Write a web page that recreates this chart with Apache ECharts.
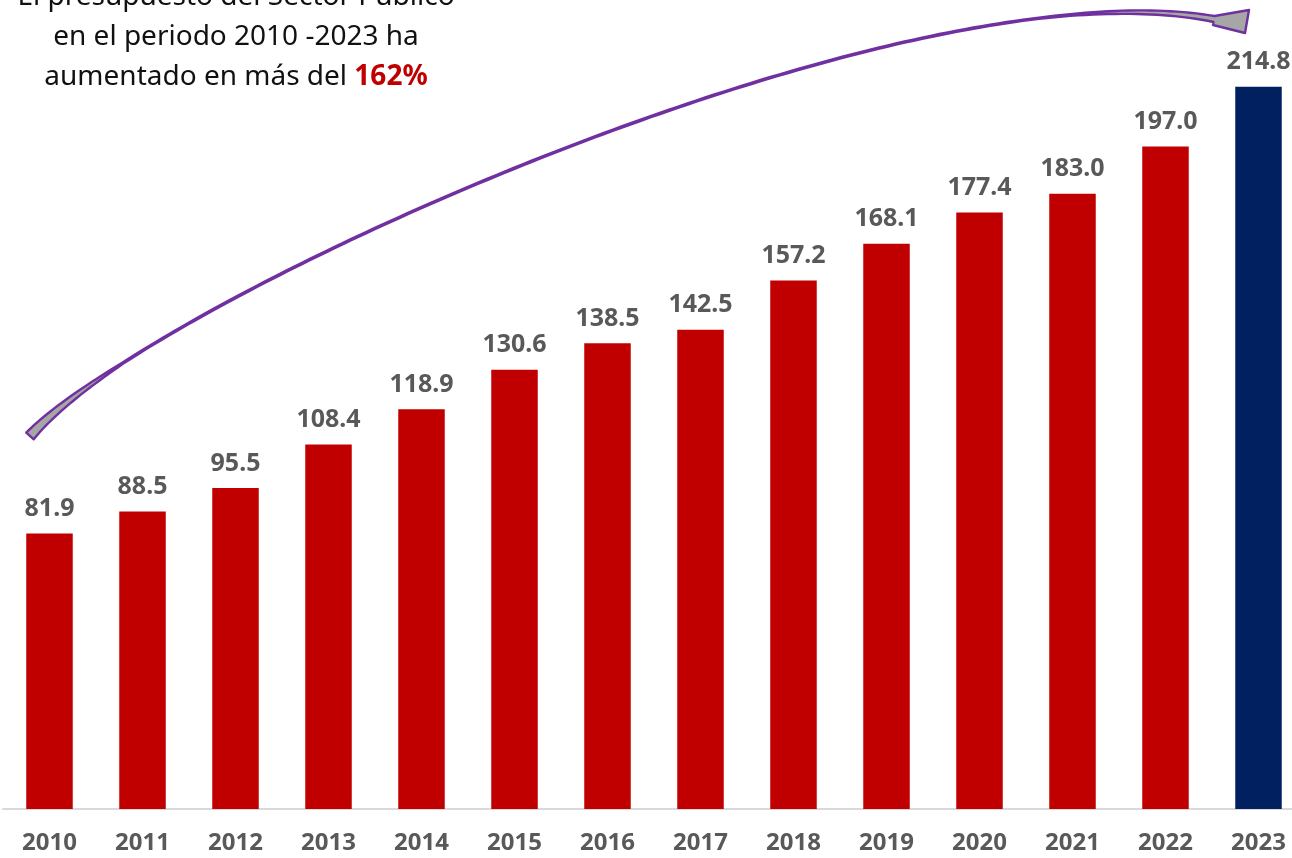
<!DOCTYPE html>
<html><head><meta charset="utf-8">
<script src="https://cdn.jsdelivr.net/npm/echarts@6/dist/echarts.min.js"></script>
<style>html,body{margin:0;padding:0;background:#fff;overflow:hidden;width:1292px;height:858px}#c{width:1310px;height:858px}</style>
</head><body><div id="c"></div>
<script>
const years = ['2010','2011','2012','2013','2014','2015','2016','2017','2018','2019','2020','2021','2022','2023'];
const budget = [81.9, 88.5, 95.5, 108.4, 118.9, 130.6, 138.5, 142.5, 157.2, 168.1, 177.4, 183.0, 197.0, 214.8];
const titleLines = ['El presupuesto del Sector Público', 'en el periodo 2010 -2023 ha', 'aumentado en más del '];
const highlight = '162%';

const RED = '#c00000', NAVY = '#002060';
const FONT = '"Noto Sans", "DejaVu Sans", sans-serif';

// Curved arrow annotation outline (tapered band + head)
function arrowPoints() {
  const P0=[30,436], P1=[150,300], P2=[900,-40], P3=[1214,19];
  const N=160, up=[], lo=[];
  for (let i=0;i<=N;i++){
    const t=i/N, u=1-t;
    const x=u*u*u*P0[0]+3*u*u*t*P1[0]+3*u*t*t*P2[0]+t*t*t*P3[0];
    const y=u*u*u*P0[1]+3*u*u*t*P1[1]+3*u*t*t*P2[1]+t*t*t*P3[1];
    const dx=3*u*u*(P1[0]-P0[0])+6*u*t*(P2[0]-P1[0])+3*t*t*(P3[0]-P2[0]);
    const dy=3*u*u*(P1[1]-P0[1])+6*u*t*(P2[1]-P1[1])+3*t*t*(P3[1]-P2[1]);
    const L=Math.hypot(dx,dy), nx=-dy/L, ny=dx/L;
    let w;
    if (t<0.15) w = 5 - (t/0.15)*4.4; else if (t>0.85) w = 0.6 + ((t-0.85)/0.15)*2.4; else w = 0.6;
    up.push([x-nx*w, y-ny*w]); lo.push([x+nx*w, y+ny*w]);
  }
  const head=[[1249,10],[1245,33],[1213,25]];
  return up.concat(head, lo.reverse());
}

const chart = echarts.init(document.getElementById('c'), null, {renderer:'canvas'});
chart.setOption({
  animation:false,
  backgroundColor:'#fff',
  grid:{left:3, right:5, top:2, bottom:49, containLabel:false},
  xAxis:{type:'category', data:years,
    axisLine:{lineStyle:{color:'#d9d9d9', width:2}},
    axisTick:{show:false},
    axisLabel:{color:'#595959', fontFamily:FONT, fontWeight:'bold', fontSize:24, margin:22}},
  yAxis:{type:'value', min:0, max:240, show:false, splitLine:{show:false}},
  series:[{type:'bar', data:budget.map((v,i)=>({value:v, itemStyle:{color: i===budget.length-1?NAVY:RED}})),
    barWidth:'50%',
    label:{show:true, position:'top', distance:12, formatter:p=>p.value.toFixed(1),
      color:'#595959', fontFamily:FONT, fontWeight:'bold', fontSize:25}}],
  graphic:[
    {type:'polygon', shape:{points:arrowPoints()}, style:{fill:'#a6a6a6', stroke:'#7030a0', lineWidth:2.4, lineJoin:'round'}, z:10},
    {type:'text', x:236, y:-3, style:{text:titleLines[0], fill:'#111', font:'28px '+FONT, textAlign:'center', textVerticalAlign:'middle'}},
    {type:'text', x:236, y:37, style:{text:titleLines[1], fill:'#111', font:'28px '+FONT, textAlign:'center', textVerticalAlign:'middle'}},
    {type:'text', x:236, y:77, style:{text:'{a|'+titleLines[2]+'}{b|'+highlight+'}', textAlign:'center', textVerticalAlign:'middle',
      rich:{a:{fill:'#111', fontSize:28, fontFamily:FONT},
            b:{fill:RED, fontSize:28, fontFamily:FONT, fontWeight:'bold'}}}}
  ]
});
</script></body></html>
